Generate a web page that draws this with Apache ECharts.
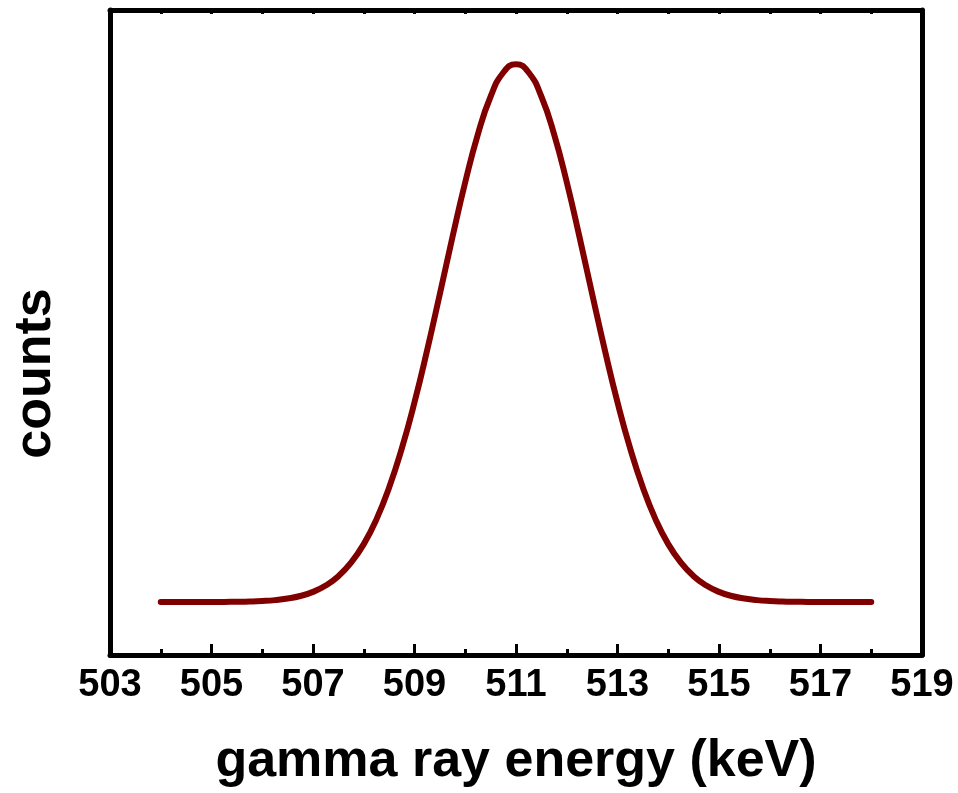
<!DOCTYPE html>
<html>
<head>
<meta charset="utf-8">
<script src="https://cdn.jsdelivr.net/npm/echarts@6/dist/echarts.min.js"></script>
<style>
html,body{margin:0;padding:0;background:#fff;}
#chart{width:958px;height:793px;}
</style>
</head>
<body>
<div id="chart"></div>
<script>
// energies (keV)
var energy = [504,504.25,504.5,504.75,505,505.25,505.5,505.75,506,506.25,506.5,506.75,507,507.25,507.5,507.75,508,508.25,508.5,508.75,509,509.25,509.5,509.75,510,510.25,510.5,510.75,511,511.25,511.5,511.75,512,512.25,512.5,512.75,513,513.25,513.5,513.75,514,514.25,514.5,514.75,515,515.25,515.5,515.75,516,516.25,516.5,516.75,517,517.25,517.5,517.75,518];
// counts (arbitrary units)
var counts = [8.2,8.2,8.2,8.2,8.21,8.23,8.25,8.29,8.37,8.51,8.76,9.15,9.79,10.77,12.22,14.31,17.19,21.03,25.96,32.02,39.18,47.28,55.99,64.85,73.31,80.76,86.59,90.31,91.6,90.31,86.59,80.76,73.31,64.85,55.99,47.28,39.18,32.02,25.96,21.03,17.19,14.31,12.22,10.77,9.79,9.15,8.76,8.51,8.37,8.29,8.25,8.23,8.21,8.2,8.2,8.2,8.2];
var xTitle = 'gamma ray energy (keV)';
var yTitle = 'counts';

var chart = echarts.init(document.getElementById('chart'), null, {renderer:'canvas'});
var font = 'Liberation Sans, Arial, Helvetica, sans-serif';
var data = energy.map(function(e,i){return [e, counts[i]];});
chart.setOption({
  animation:false,
  backgroundColor:'#fff',
  grid:{left:110,right:36,top:10,bottom:138,containLabel:false},
  xAxis:[{
    type:'value',position:'bottom',min:503,max:519,interval:2,
    axisLine:{show:true,onZero:false,lineStyle:{color:'#000',width:5}},
    axisTick:{show:true,inside:true,length:11,lineStyle:{color:'#000',width:3}},
    minorTick:{show:true,splitNumber:2,length:6,lineStyle:{color:'#000',width:3}},
    splitLine:{show:false},minorSplitLine:{show:false},
    axisLabel:{show:true,margin:12,color:'#000',fontSize:38,fontWeight:'bold',fontFamily:font},
    name:xTitle,nameLocation:'middle',nameGap:81,
    nameTextStyle:{color:'#000',fontSize:52,fontWeight:'bold',fontFamily:font}
  },{
    type:'value',position:'top',min:503,max:519,interval:1,
    axisLine:{show:true,onZero:false,lineStyle:{color:'#000',width:5}},
    axisTick:{show:true,inside:true,length:4,lineStyle:{color:'#000',width:3}},
    splitLine:{show:false},axisLabel:{show:false}
  }],
  yAxis:[{
    type:'value',position:'left',min:0,max:100,
    axisLine:{show:true,onZero:false,lineStyle:{color:'#000',width:5}},
    axisTick:{show:false},splitLine:{show:false},axisLabel:{show:false},
    name:yTitle,nameLocation:'middle',nameGap:48,
    nameTextStyle:{color:'#000',fontSize:52,fontWeight:'bold',fontFamily:font,padding:[0,82,0,0]}
  },{
    type:'value',position:'right',min:0,max:100,
    axisLine:{show:true,onZero:false,lineStyle:{color:'#000',width:5}},
    axisTick:{show:false},splitLine:{show:false},axisLabel:{show:false}
  }],
  series:[{
    type:'line',xAxisIndex:0,yAxisIndex:0,data:data,smooth:0.5,showSymbol:false,
    lineStyle:{color:'#800000',width:6,cap:'round',join:'round'}
  }]
});
</script>
</body>
</html>
